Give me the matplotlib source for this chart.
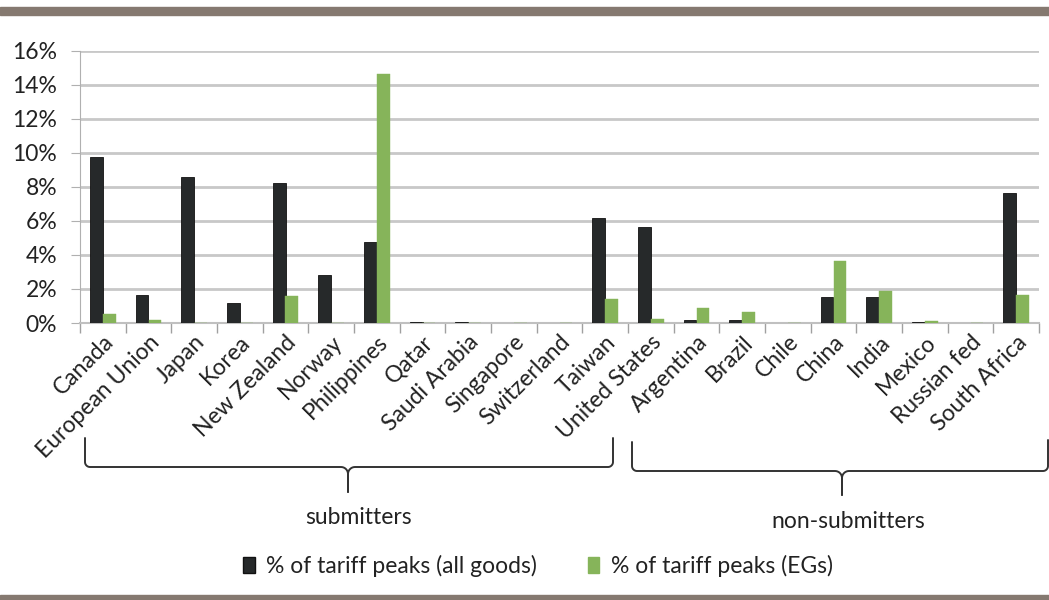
import numpy as np
import matplotlib
matplotlib.use('Agg')
import matplotlib.pyplot as plt
from matplotlib.patches import Patch, Rectangle

plt.rcParams['font.family'] = ['Lato', 'DejaVu Sans']

## data (share of tariff lines that are peaks)
countries = ['Canada', 'European Union', 'Japan', 'Korea', 'New Zealand', 'Norway',
             'Philippines', 'Qatar', 'Saudi Arabia', 'Singapore', 'Switzerland',
             'Taiwan', 'United States', 'Argentina', 'Brazil', 'Chile', 'China',
             'India', 'Mexico', 'Russian fed', 'South Africa']
all_goods = [9.75, 1.66, 8.6, 1.2, 8.2, 2.8, 4.76, 0.03, 0.08, 0.0, 0.0,
             6.18, 5.65, 0.2, 0.2, 0.0, 1.53, 1.53, 0.03, 0.0, 7.66]
egs = [0.55, 0.2, 0.0, 0.0, 1.6, 0.0, 14.65, 0.0, 0.0, 0.0, 0.0,
       1.39, 0.22, 0.88, 0.65, 0.0, 3.64, 1.88, 0.1, 0.0, 1.66]
yticks = [0, 2, 4, 6, 8, 10, 12, 14, 16]
group_names = ['submitters', 'non-submitters']

black = '#26292a'
green = '#86b45a'
band = '#857970'
txt = '#222222'
fs = 16.5

fig = plt.figure(figsize=(10.49, 6), dpi=100)
ax = fig.add_axes([80/1049, 1-323/600, (1039-80)/1049, (323-50.7)/600])

x = np.arange(len(countries))
w = 0.28
ax.bar(x - w/2, all_goods, w, color=black, edgecolor='#111111', linewidth=0.6, zorder=3)
ax.bar(x + w/2, egs, w, color=green, edgecolor=green, linewidth=0.3, zorder=3)

ax.set_xlim(-0.5, len(countries) - 0.5)
ax.set_ylim(0, 16)
ax.set_yticks(yticks)
ax.set_yticklabels(['%d%%' % v for v in yticks], fontsize=fs, color=txt)
ax.yaxis.grid(True, color='#c8c8c8', linewidth=2, zorder=0)
ax.tick_params(axis='y', length=6.5, color='#b0b0b0', pad=10)

# category boundary ticks below the axis, labels at category centres
ax.set_xticks(np.arange(len(countries) + 1) - 0.5)
ax.set_xticklabels([])
ax.tick_params(axis='x', length=7, color='#a0a0a0', width=1)
ax.set_xticks(x, minor=True)
ax.set_xticklabels(countries, minor=True, rotation=45, ha='right',
                   rotation_mode='anchor', fontsize=fs, color=txt)
ax.tick_params(axis='x', which='minor', length=0, pad=6)

for s in ['top', 'right']:
    ax.spines[s].set_visible(False)
ax.spines['left'].set_color('#b0b0b0')
ax.spines['bottom'].set_color('#c0c0c0')
ax.spines['bottom'].set_linewidth(1.5)

## overlay in pixel coords for bands, braces, group labels
ov = fig.add_axes([0, 0, 1, 1], zorder=-1)
ov.set_xlim(0, 1049)
ov.set_ylim(600, 0)
ov.axis('off')
ov.add_patch(Rectangle((0, 7), 1049, 8, color=band))
ov.add_patch(Rectangle((0, 595), 1049, 5, color=band))

def brace(x0, x1, xm, ytop_l, ytop_r, yh, ytip):
    r = 5
    t = np.linspace(0, np.pi/2, 10)
    xs = [x0, x0]
    ys = [ytop_l, yh - r]
    xs += list(x0 + r - r*np.cos(t))
    ys += list(yh - r + r*np.sin(t))
    xs += [xm - 7]
    ys += [yh]
    xs += list(xm - 7 + 7*np.sin(t))
    ys += list(yh + 7*(1 - np.cos(t)))
    xs += [xm, xm]
    ys += [yh + 7, ytip]
    xs2 = [xm, xm] + list(xm + 7 - 7*np.sin(t[::-1])) + [x1 - r]
    ys2 = [ytip, yh + 7] + list(yh + 7*(1 - np.cos(t[::-1]))) + [yh]
    xs2 += list(x1 - r + r*np.cos(t[::-1]))
    ys2 += list(yh - r + r*np.sin(t[::-1]))
    xs2 += [x1, x1]
    ys2 += [yh - r, ytop_r]
    ov.plot(xs, ys, color='#333333', lw=1.4, solid_capstyle='round')
    ov.plot(xs2, ys2, color='#333333', lw=1.4, solid_capstyle='round')

brace(85, 613, 348, 438, 438, 467, 492)
brace(632, 1048, 842, 442, 440, 471, 495)
ov.text(358, 518, group_names[0], ha='center', va='center', fontsize=fs, color=txt)
ov.text(848, 521, group_names[1], ha='center', va='center', fontsize=fs, color=txt)

handles = [Patch(facecolor=black, edgecolor='#111111', label='% of tariff peaks (all goods)'),
           Patch(facecolor=green, edgecolor=green, label='% of tariff peaks (EGs)')]
leg = fig.legend(handles=handles, loc='center', bbox_to_anchor=(538/1049, 1-566/600),
                 ncol=2, frameon=False, fontsize=fs, handlelength=0.5, handleheight=0.7,
                 handletextpad=0.5, columnspacing=2.2)
for t in leg.get_texts():
    t.set_color(txt)

fig.savefig('out.png', dpi=100, facecolor='white')
